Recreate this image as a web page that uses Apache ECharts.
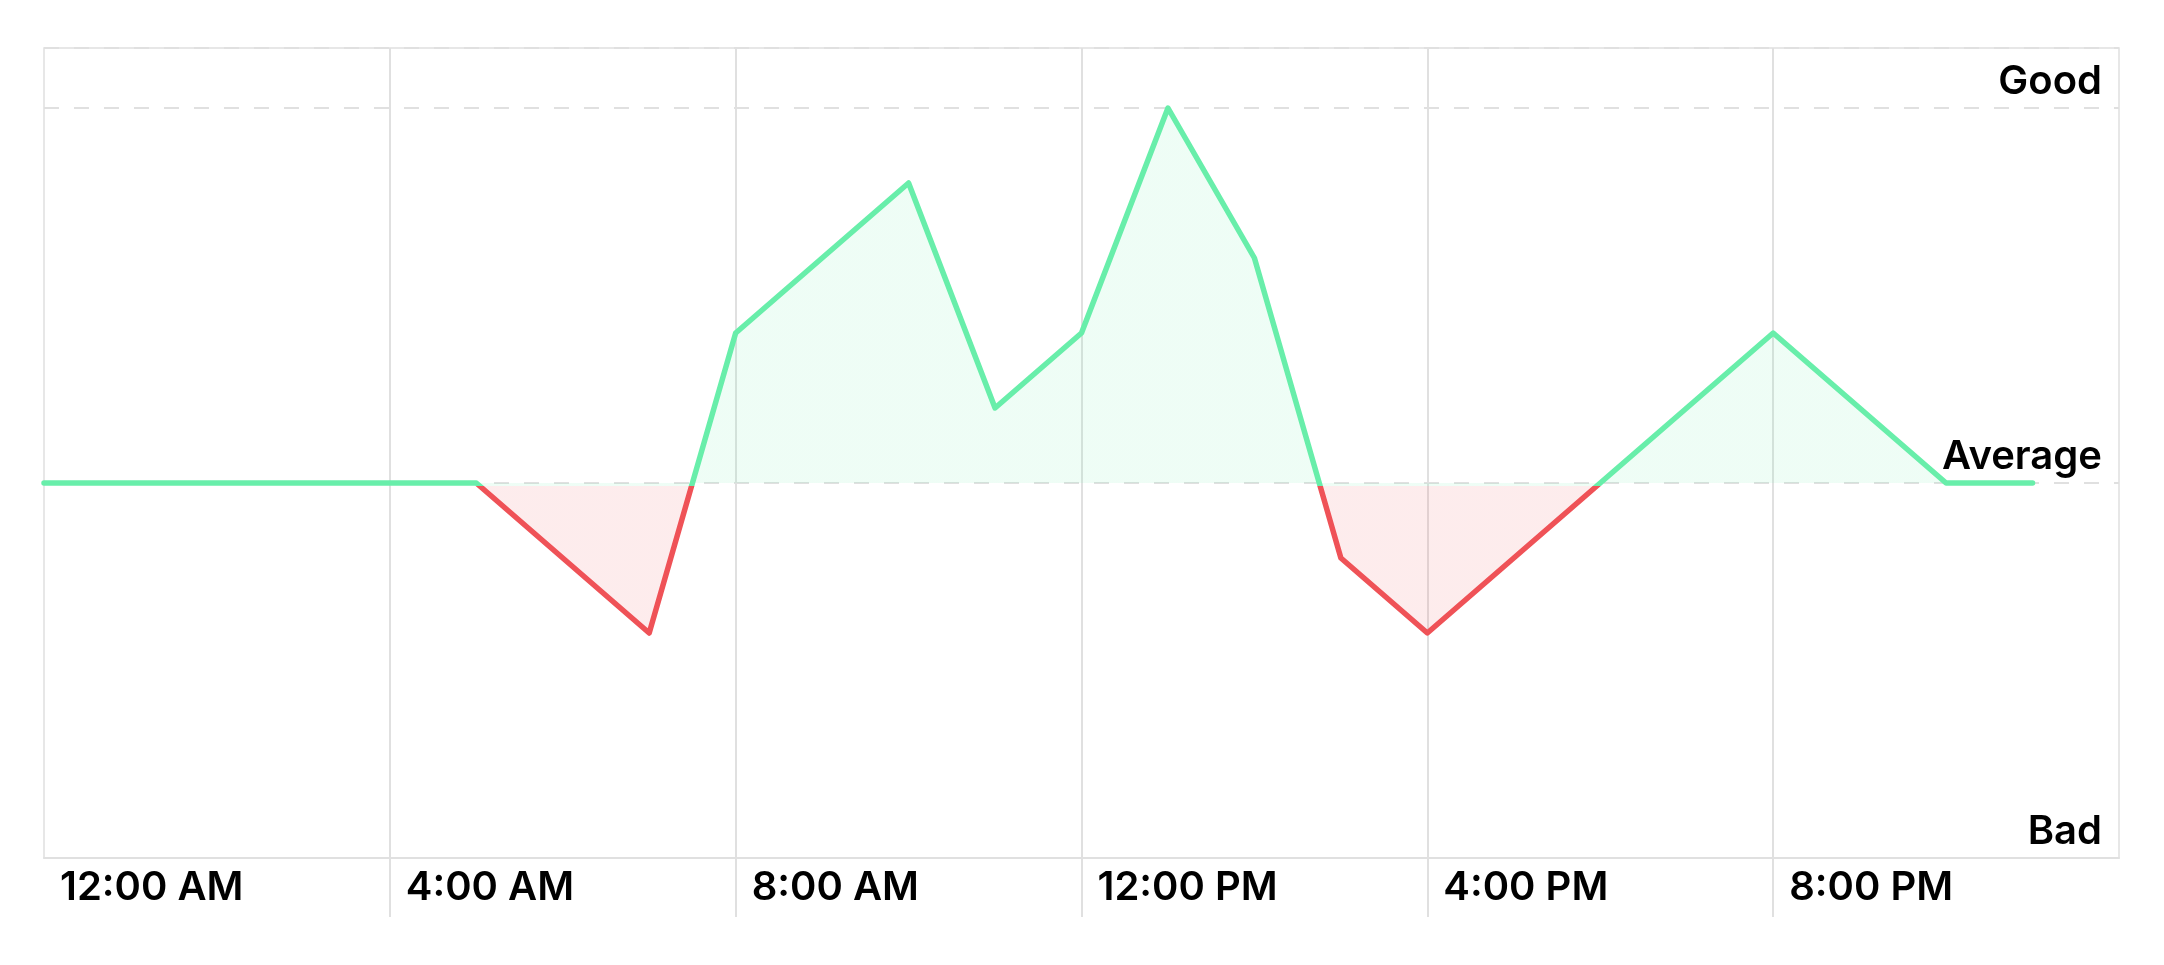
<!DOCTYPE html>
<html>
<head>
<meta charset="utf-8">
<script src="https://cdn.jsdelivr.net/npm/echarts@6/dist/echarts.min.js"></script>
<style>
  html, body { margin: 0; padding: 0; background: #ffffff; }
  #chart { width: 2164px; height: 965px; }
</style>
</head>
<body>
<div id="chart"></div>
<script>
// ---- data ----
const hours  = [0, 5, 7, 8, 10, 11, 12, 13, 14, 15, 16, 20, 22, 23];
const scores = [50, 50, 30, 70, 90, 60, 70, 100, 80, 40, 30, 70, 50, 50];
const timeTickLabels = ['12:00 AM', '4:00 AM', '8:00 AM', '12:00 PM', '4:00 PM', '8:00 PM', '12:00 AM'];
const levelValues = [0, 50, 100];
const levelNames  = ['Bad', 'Average', 'Good'];

const GREEN = '#68eeaa';
const RED = '#ef5257';
const GRID = '#e0e0e0';
const FONT = 'Inter';

const chart = echarts.init(document.getElementById('chart'), null, { renderer: 'canvas' });

chart.setOption({
  backgroundColor: '#ffffff',
  animation: false,
  grid: {
    left: 44, right: 45, top: 48, bottom: 107,
    show: true, borderColor: GRID, borderWidth: 1.5, backgroundColor: 'transparent'
  },
  xAxis: {
    type: 'value',
    min: 0, max: 24, interval: 4,
    axisLine: { show: true, lineStyle: { color: GRID, width: 2 } },
    axisTick: {
      show: true, length: 59, inside: false,
      customValues: [4, 8, 12, 16, 20],
      lineStyle: { color: GRID, width: 2 }
    },
    splitLine: { show: true, lineStyle: { color: GRID, width: 2 } },
    axisLabel: {
      show: true,
      showMaxLabel: false,
      align: 'left',
      margin: 10,
      padding: [0, 0, 0, 16],
      color: '#000000',
      fontFamily: FONT,
      fontWeight: 600,
      fontSize: 40,
      formatter: function (v) { return timeTickLabels[Math.round(v / 4)] || ''; }
    }
  },
  yAxis: {
    type: 'value',
    position: 'right',
    min: 0, max: 108, interval: 50,
    axisLine: { show: false },
    axisTick: { show: false },
    splitLine: { show: true, lineStyle: { color: GRID, width: 2, type: [15, 15] } },
    axisLabel: {
      show: true,
      inside: true,
      showMaxLabel: false,
      margin: 17,
      verticalAlign: 'bottom',
      padding: [0, 0, 6, 0],
      color: '#000000',
      fontFamily: FONT,
      fontWeight: 600,
      fontSize: 40,
      formatter: function (v) {
        const i = levelValues.indexOf(v);
        return i >= 0 ? levelNames[i] : '';
      }
    }
  },
  visualMap: {
    show: false,
    type: 'piecewise',
    dimension: 1,
    seriesIndex: 0,
    pieces: [
      { gte: 0, lt: 49.6, color: RED },
      { gte: 49.6, lte: 108, color: GREEN }
    ],
    outOfRange: { color: GREEN }
  },
  series: [{
    type: 'line',
    data: hours.map((h, i) => [h, scores[i]]),
    symbol: 'none',
    lineStyle: { width: 5.5, join: 'round', cap: 'round' },
    areaStyle: { origin: 50, opacity: 0.11 }
  }]
});
</script>
</body>
</html>
